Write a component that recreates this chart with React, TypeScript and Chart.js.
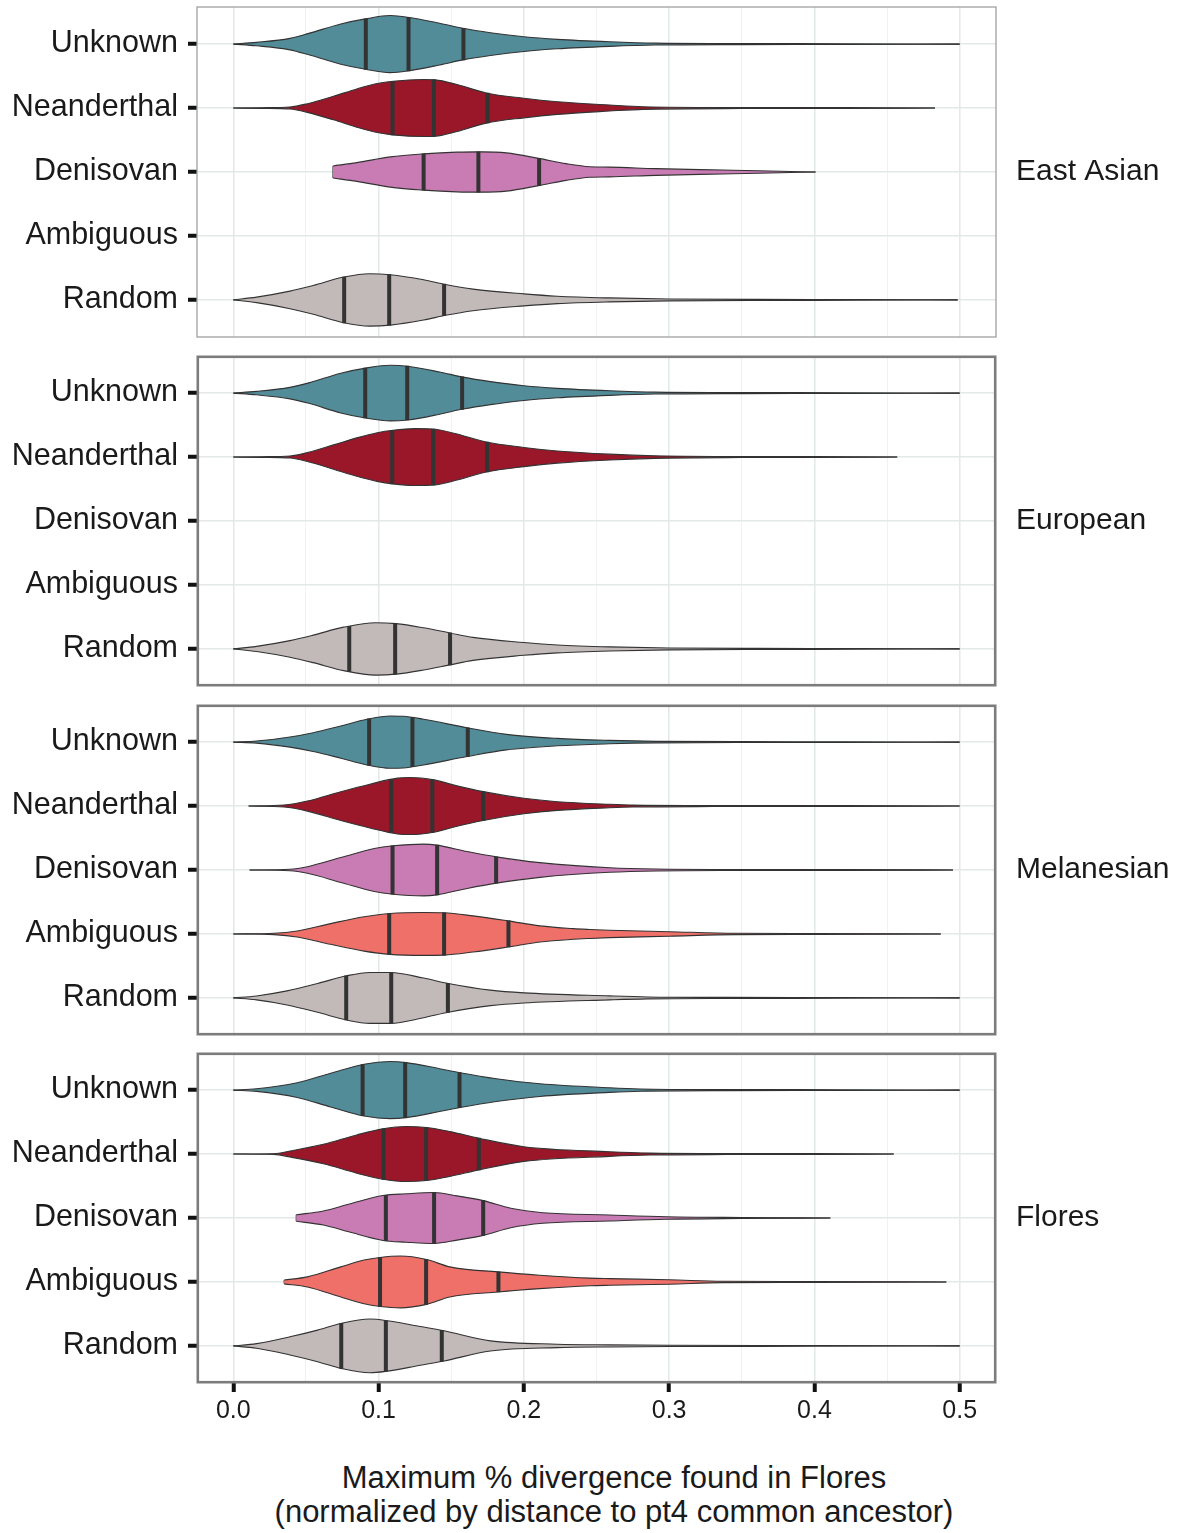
import React, { useEffect, useRef } from 'react';
import { Chart, registerables } from 'chart.js';

Chart.register(...registerables);

// ---------- data ----------
const CATEGORIES = ['Unknown', 'Neanderthal', 'Denisovan', 'Ambiguous', 'Random'];
const PANEL_LABELS = ['East Asian', 'European', 'Melanesian', 'Flores'];
const X_GRID_TICKS = [0, 0.05, 0.1, 0.15, 0.2, 0.25, 0.3, 0.35, 0.4, 0.45, 0.5];
const X_TITLE = ['Maximum % divergence found in Flores', '(normalized by distance to pt4 common ancestor)'];
const FILL_COLORS = ['#528C99', '#9A1729', '#C97BB3', '#EF6F69', '#C2B9B9'];

// Violin outlines: [value, half-width in category units]; quartile lines: [25%, 50%, 75%]
const EA_UNKNOWN = [[0, 0], [0.016, 0.027], [0.039, 0.09], [0.052, 0.168], [0.074, 0.315], [0.091, 0.394], [0.108, 0.446], [0.12, 0.42], [0.142, 0.326], [0.158, 0.247], [0.177, 0.178], [0.2, 0.115], [0.223, 0.074], [0.259, 0.036], [0.29, 0.015], [0.35, 0.008], [0.42, 0.006], [0.5, 0]];
const EA_UNKNOWN_Q = [0.0912, 0.1206, 0.1584];
const EA_NEAND = [[0, 0], [0.02, 0.005], [0.039, 0.016], [0.051, 0.068], [0.069, 0.184], [0.085, 0.299], [0.099, 0.383], [0.11, 0.42], [0.131, 0.446], [0.139, 0.441], [0.154, 0.367], [0.174, 0.236], [0.2, 0.153], [0.223, 0.099], [0.259, 0.047], [0.282, 0.02], [0.35, 0.008], [0.42, 0.006], [0.483, 0]];
const EA_NEAND_Q = [0.1096, 0.138, 0.175];
const EA_DENI = [[0.0686, 0.094], [0.085, 0.146], [0.108, 0.236], [0.131, 0.283], [0.154, 0.31], [0.17, 0.315], [0.188, 0.299], [0.211, 0.209], [0.229, 0.131], [0.2455, 0.083], [0.259, 0.077], [0.291, 0.052], [0.337, 0.031], [0.369, 0.016], [0.4008, 0]];
const EA_DENI_Q = [0.131, 0.1687, 0.2105];
const EA_RANDOM = [[0, 0], [0.016, 0.043], [0.039, 0.137], [0.055, 0.225], [0.076, 0.357], [0.094, 0.41], [0.108, 0.394], [0.131, 0.315], [0.146, 0.241], [0.165, 0.169], [0.2, 0.094], [0.223, 0.058], [0.259, 0.031], [0.3, 0.015], [0.36, 0.008], [0.43, 0.006], [0.4986, 0]];
const EA_RANDOM_Q = [0.0763, 0.1073, 0.1451];

const EU_UNKNOWN = [[0, 0], [0.016, 0.027], [0.039, 0.09], [0.052, 0.16], [0.074, 0.31], [0.091, 0.39], [0.108, 0.435], [0.12, 0.42], [0.142, 0.33], [0.158, 0.25], [0.177, 0.18], [0.2, 0.115], [0.223, 0.074], [0.259, 0.036], [0.29, 0.015], [0.35, 0.008], [0.42, 0.006], [0.5, 0]];
const EU_UNKNOWN_Q = [0.0908, 0.1197, 0.1575];
const EU_NEAND = [[0, 0], [0.02, 0.005], [0.039, 0.016], [0.051, 0.07], [0.069, 0.19], [0.085, 0.3], [0.099, 0.38], [0.11, 0.42], [0.125, 0.445], [0.139, 0.435], [0.154, 0.36], [0.174, 0.235], [0.2, 0.15], [0.223, 0.095], [0.259, 0.045], [0.29, 0.02], [0.35, 0.008], [0.4, 0.006], [0.457, 0]];
const EU_NEAND_Q = [0.1094, 0.1376, 0.1747];
const EU_RANDOM = [[0, 0], [0.016, 0.04], [0.039, 0.13], [0.055, 0.215], [0.076, 0.34], [0.098, 0.41], [0.112, 0.395], [0.131, 0.33], [0.149, 0.25], [0.165, 0.18], [0.2, 0.1], [0.223, 0.062], [0.259, 0.032], [0.3, 0.015], [0.36, 0.008], [0.43, 0.006], [0.5, 0]];
const EU_RANDOM_Q = [0.0798, 0.1114, 0.1492];

const ME_UNKNOWN = [[0, 0], [0.016, 0.016], [0.039, 0.079], [0.055, 0.146], [0.074, 0.252], [0.092, 0.357], [0.108, 0.409], [0.117, 0.405], [0.131, 0.357], [0.161, 0.225], [0.188, 0.121], [0.223, 0.058], [0.259, 0.027], [0.291, 0.012], [0.35, 0.007], [0.42, 0.006], [0.5, 0]];
const ME_UNKNOWN_Q = [0.0935, 0.1233, 0.1614];
const ME_NEAND = [[0.0105, 0], [0.035, 0.016], [0.051, 0.079], [0.074, 0.225], [0.094, 0.342], [0.113, 0.436], [0.122, 0.446], [0.138, 0.409], [0.154, 0.315], [0.172, 0.225], [0.2, 0.121], [0.223, 0.068], [0.259, 0.027], [0.275, 0.015], [0.33, 0.008], [0.42, 0.006], [0.5, 0]];
const ME_NEAND_Q = [0.1087, 0.137, 0.172];
const ME_DENI = [[0.0112, 0], [0.039, 0.011], [0.051, 0.052], [0.074, 0.194], [0.097, 0.335], [0.11, 0.378], [0.131, 0.405], [0.14, 0.389], [0.161, 0.288], [0.181, 0.205], [0.211, 0.115], [0.259, 0.036], [0.291, 0.015], [0.35, 0.008], [0.42, 0.006], [0.4954, 0]];
const ME_DENI_Q = [0.1096, 0.1403, 0.1809];
const ME_AMBIG = [[0, 0], [0.028, 0.011], [0.044, 0.047], [0.067, 0.162], [0.09, 0.268], [0.108, 0.32], [0.131, 0.335], [0.145, 0.331], [0.165, 0.283], [0.189, 0.205], [0.211, 0.126], [0.234, 0.083], [0.2455, 0.07], [0.259, 0.058], [0.3, 0.035], [0.346, 0.01], [0.4, 0.006], [0.487, 0]];
const ME_AMBIG_Q = [0.1073, 0.1451, 0.1894];
const ME_RANDOM = [[0, 0], [0.016, 0.031], [0.037, 0.11], [0.058, 0.225], [0.078, 0.346], [0.094, 0.398], [0.108, 0.398], [0.131, 0.31], [0.148, 0.225], [0.177, 0.121], [0.2, 0.079], [0.259, 0.031], [0.285, 0.015], [0.34, 0.008], [0.42, 0.006], [0.5, 0]];
const ME_RANDOM_Q = [0.0777, 0.1087, 0.1477];

const FL_UNKNOWN = [[0, 0], [0.016, 0.02], [0.044, 0.115], [0.067, 0.263], [0.09, 0.405], [0.108, 0.446], [0.119, 0.43], [0.142, 0.335], [0.156, 0.272], [0.181, 0.178], [0.211, 0.099], [0.259, 0.036], [0.28, 0.018], [0.34, 0.008], [0.42, 0.006], [0.5, 0]];
const FL_UNKNOWN_Q = [0.089, 0.1183, 0.1557];
const FL_NEAND = [[0, 0], [0.028, 0.005], [0.039, 0.047], [0.062, 0.153], [0.085, 0.299], [0.103, 0.394], [0.119, 0.43], [0.133, 0.414], [0.149, 0.351], [0.169, 0.247], [0.2, 0.115], [0.259, 0.036], [0.287, 0.015], [0.34, 0.008], [0.4, 0.006], [0.4546, 0]];
const FL_NEAND_Q = [0.1034, 0.1327, 0.169];
const FL_DENI = [[0.0433, 0.05], [0.062, 0.11], [0.08, 0.22], [0.103, 0.351], [0.119, 0.378], [0.138, 0.398], [0.154, 0.346], [0.172, 0.272], [0.191, 0.153], [0.213, 0.083], [0.259, 0.047], [0.298, 0.02], [0.35, 0.008], [0.411, 0]];
const FL_DENI_Q = [0.105, 0.1382, 0.172];
const FL_AMBIG = [[0.035, 0.03], [0.051, 0.079], [0.074, 0.236], [0.09, 0.342], [0.101, 0.383], [0.115, 0.405], [0.133, 0.351], [0.149, 0.236], [0.182, 0.157], [0.211, 0.105], [0.2455, 0.06], [0.259, 0.052], [0.3, 0.035], [0.337, 0.01], [0.4, 0.006], [0.4908, 0]];
const FL_AMBIG_Q = [0.101, 0.1327, 0.1825];
const FL_RANDOM = [[0, 0], [0.016, 0.036], [0.039, 0.142], [0.058, 0.247], [0.074, 0.351], [0.094, 0.42], [0.106, 0.394], [0.126, 0.315], [0.145, 0.236], [0.177, 0.079], [0.223, 0.027], [0.259, 0.016], [0.3, 0.01], [0.4, 0.006], [0.5, 0]];
const FL_RANDOM_Q = [0.0743, 0.105, 0.1435];

const PANEL_PROFILES = [
  [EA_UNKNOWN, EA_NEAND, EA_DENI, null, EA_RANDOM],
  [EU_UNKNOWN, EU_NEAND, null, null, EU_RANDOM],
  [ME_UNKNOWN, ME_NEAND, ME_DENI, ME_AMBIG, ME_RANDOM],
  [FL_UNKNOWN, FL_NEAND, FL_DENI, FL_AMBIG, FL_RANDOM],
];
const PANEL_QUARTILES = [
  [EA_UNKNOWN_Q, EA_NEAND_Q, EA_DENI_Q, null, EA_RANDOM_Q],
  [EU_UNKNOWN_Q, EU_NEAND_Q, null, null, EU_RANDOM_Q],
  [ME_UNKNOWN_Q, ME_NEAND_Q, ME_DENI_Q, ME_AMBIG_Q, ME_RANDOM_Q],
  [FL_UNKNOWN_Q, FL_NEAND_Q, FL_DENI_Q, FL_AMBIG_Q, FL_RANDOM_Q],
];

// ---------- layout ----------
const PAGE_W = 1179;
const PANEL_TOPS = [7, 356, 705, 1053];
const PANEL_H = 330;
const AXIS_W = 197;
const RIGHT_PAD = 183;
const TOP_PAD = 7;
const FONT = '"Liberation Sans", Arial, Helvetica, sans-serif';
const TEXT_COLOR = '#1A1A1A';

function halfWidthAt(prof: number[][], q: number) {
  for (let k = 0; k < prof.length - 1; k++) {
    const [x0, w0] = prof[k];
    const [x1, w1] = prof[k + 1];
    if (q >= x0 && q <= x1) return w0 + ((w1 - w0) * (q - x0)) / (x1 - x0);
  }
  return 0;
}

function buildDatasets(p: number) {
  const ds: any[] = [];
  PANEL_PROFILES[p].forEach((prof, i) => {
    if (!prof) return;
    const base = { borderColor: '#333333', borderWidth: 1.1, pointRadius: 0, pointHoverRadius: 0, order: 1 };
    ds.push({ ...base, data: prof.map(([x, w]) => ({ x, y: i - w })), fill: false, cubicInterpolationMode: 'monotone' });
    ds.push({ ...base, data: prof.map(([x, w]) => ({ x, y: i + w })), fill: '-1', backgroundColor: FILL_COLORS[i], cubicInterpolationMode: 'monotone' });
    const [x0, w0] = prof[0];
    if (w0 > 0) ds.push({ ...base, data: [{ x: x0, y: i - w0 }, { x: x0, y: i + w0 }], fill: false, tension: 0 });
    const qs = PANEL_QUARTILES[p][i] || [];
    const qdata: any[] = [];
    qs.forEach((q) => {
      const w = halfWidthAt(prof, q) + 0.006;
      qdata.push({ x: q, y: i - w }, { x: q, y: i + w }, { x: q, y: null });
    });
    ds.push({ data: qdata, borderColor: '#333333', borderWidth: 4, borderCapStyle: 'butt', pointRadius: 0, pointHoverRadius: 0, fill: false, tension: 0, spanGaps: false, order: 0 });
  });
  return ds;
}

const isMajor = (v: number) => Math.abs(v * 10 - Math.round(v * 10)) < 1e-6;

function Panel({ index }: { index: number }) {
  const ref = useRef<HTMLCanvasElement | null>(null);
  const isBottom = index === PANEL_LABELS.length - 1;
  const height = TOP_PAD + PANEL_H + (isBottom ? 50 : 3);

  useEffect(() => {
    if (!ref.current) return;
    const thick = index > 0;
    const decor = {
      id: 'panelDecor',
      afterDraw(chart: any) {
        const { ctx, chartArea: a } = chart;
        ctx.save();
        ctx.strokeStyle = thick ? '#7C7C7C' : '#A0A0A0';
        ctx.lineWidth = thick ? 2.6 : 1.3;
        const inset = thick ? 0.8 : 0;
        ctx.strokeRect(a.left + inset, a.top + inset, a.right - a.left - 2 * inset, a.bottom - a.top - 2 * inset);
        ctx.fillStyle = TEXT_COLOR;
        ctx.font = `30px ${FONT}`;
        ctx.textAlign = 'left';
        ctx.textBaseline = 'middle';
        ctx.fillText(PANEL_LABELS[index], a.right + 20, (a.top + a.bottom) / 2);
        ctx.restore();
      },
    };
    const chart = new Chart(ref.current, {
      type: 'line',
      data: { datasets: buildDatasets(index) },
      options: {
        responsive: false,
        maintainAspectRatio: false,
        animation: false,
        events: [],
        layout: { padding: { top: TOP_PAD, right: RIGHT_PAD, left: 0, bottom: isBottom ? 0 : 3 } },
        plugins: { legend: { display: false }, tooltip: { enabled: false } },
        scales: {
          x: {
            type: 'linear',
            min: -0.025,
            max: 0.525,
            afterBuildTicks: (s: any) => {
              s.ticks = X_GRID_TICKS.map((v) => ({ value: v }));
            },
            afterFit: (s: any) => {
              s.height = isBottom ? 50 : 0;
              s.paddingLeft = 0;
              s.paddingRight = 0;
            },
            border: { display: false },
            grid: {
              color: (c: any) => (isMajor(c.tick.value) ? '#E3E8E8' : '#EFF2F2'),
              lineWidth: (c: any) => (isMajor(c.tick.value) ? 1.5 : 1),
              drawTicks: isBottom,
              tickLength: 9,
              tickWidth: 4,
              tickColor: (c: any) => (isMajor(c.tick.value) ? '#111111' : 'rgba(0,0,0,0)'),
            },
            ticks: {
              display: isBottom,
              autoSkip: false,
              maxRotation: 0,
              padding: 4,
              color: TEXT_COLOR,
              font: { family: FONT, size: 25 },
              callback: (v: any) => (isMajor(Number(v)) ? Number(v).toFixed(1) : ''),
            },
          },
          y: {
            type: 'linear',
            reverse: true,
            min: -0.58,
            max: 4.58,
            afterBuildTicks: (s: any) => {
              s.ticks = CATEGORIES.map((_, k) => ({ value: k }));
            },
            afterFit: (s: any) => {
              s.width = AXIS_W;
              s.paddingTop = 0;
              s.paddingBottom = 0;
            },
            border: { display: false },
            grid: {
              color: '#E3E8E8',
              lineWidth: 1.5,
              drawTicks: true,
              tickLength: 9,
              tickWidth: 4,
              tickColor: '#111111',
            },
            ticks: {
              padding: 10,
              color: TEXT_COLOR,
              font: { family: FONT, size: 30.5 },
              callback: (v: any) => CATEGORIES[Number(v)] ?? '',
            },
          },
        },
      } as any,
      plugins: [decor],
    });
    return () => chart.destroy();
  }, [index, isBottom]);

  return (
    <div style={{ position: 'absolute', left: 0, top: PANEL_TOPS[index] - TOP_PAD, width: PAGE_W, height }}>
      <canvas ref={ref} width={PAGE_W} height={height} style={{ display: 'block', width: PAGE_W, height }} />
    </div>
  );
}

export default function App() {
  return (
    <div style={{ position: 'absolute', left: 0, top: 0, width: PAGE_W, height: 1530, overflow: 'hidden', background: '#FFFFFF' }}>
      {PANEL_LABELS.map((_, i) => (
        <Panel key={i} index={i} />
      ))}
      <div
        style={{
          position: 'absolute',
          left: 49,
          top: 1461,
          width: 1130,
          textAlign: 'center',
          fontFamily: FONT,
          fontSize: 31,
          lineHeight: '34px',
          color: TEXT_COLOR,
        }}
      >
        {X_TITLE.map((t, k) => (
          <div key={k}>{t}</div>
        ))}
      </div>
    </div>
  );
}
